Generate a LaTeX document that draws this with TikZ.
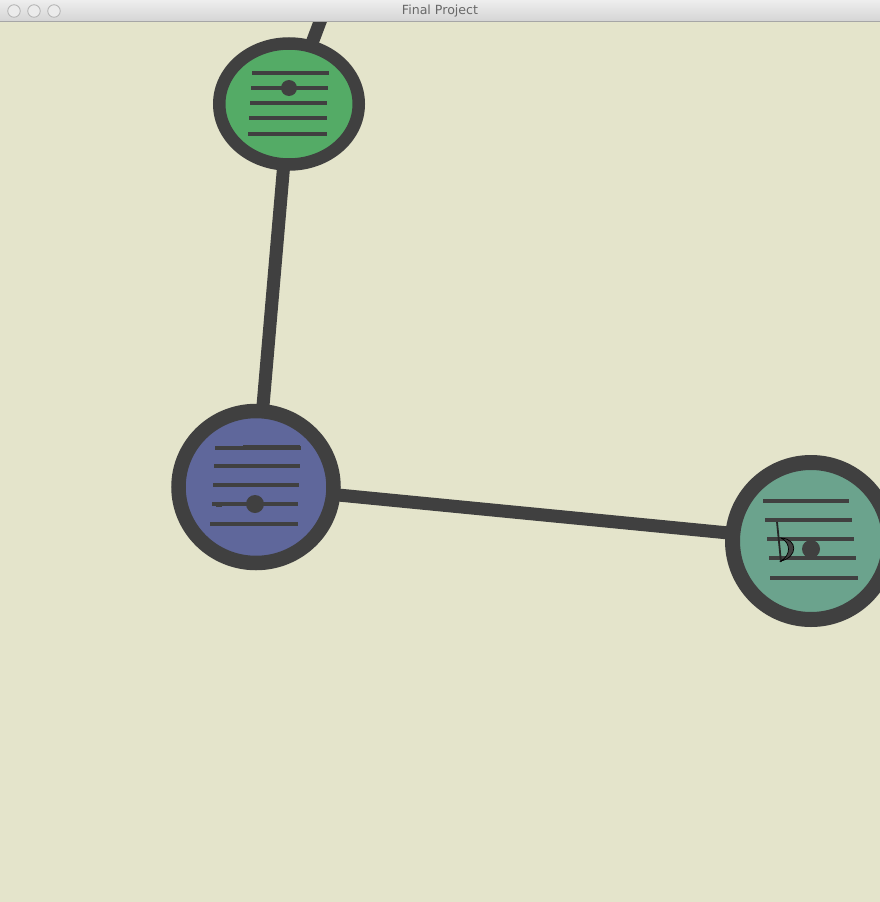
\documentclass[tikz,border=0pt]{standalone}
\usepackage{fontspec}
\setmainfont{DejaVu Sans}
\usetikzlibrary{shapes.geometric}
\definecolor{bg}{HTML}{E4E4CB}
\definecolor{ring}{HTML}{404040}
\definecolor{gfill}{HTML}{54AB66}
\definecolor{bfill}{HTML}{5F679B}
\definecolor{tfill}{HTML}{6BA38D}
\definecolor{bartop}{HTML}{EEEEEE}
\definecolor{barbot}{HTML}{D5D5D5}
\definecolor{barline}{HTML}{A6A6A6}
\definecolor{titlecol}{HTML}{686868}
\tikzset{
  notenode/.style={ellipse, draw=ring, inner sep=0pt, outer sep=0pt},
  connector/.style={draw=ring, line width=13bp},
  staff/.style={draw=ring, line width=3.2bp},
  notedot/.style={fill=ring},
  winbtn/.style={circle, draw=black!30, fill=white!92!black, line width=0.8bp, minimum size=12.5bp, inner sep=0pt}
}
\begin{document}
\begin{tikzpicture}[x=1bp,y=-1bp]
\useasboundingbox (0,0) rectangle (880,902);
\fill[bg] (0,0) rectangle (880,902);
% nodes
\node[notenode, fill=gfill, line width=12.5bp, minimum width=139.5bp, minimum height=121bp] (g) at (289,104) {};
\node[notenode, fill=bfill, line width=14.5bp, minimum width=155bp, minimum height=152bp] (b) at (256,487) {};
\node[notenode, fill=tfill, line width=15bp, minimum width=157bp, minimum height=157bp] (t) at (811,541) {};
\coordinate (up) at (332,-10);
% connectors
\draw[connector] (g) -- (up);
\draw[connector] (g) -- (b);
\draw[connector] (b) -- (t);
% green staff
\draw[staff] (252,73) -- (329,73);
\draw[staff] (251,88) -- (328,88);
\draw[staff] (250,103) -- (327,103);
\draw[staff] (249,118) -- (327,118);
\draw[staff] (248,134) -- (327,134);
\fill[notedot] (289,88) circle (8bp);
% blue staff
\draw[ring, line width=1.5bp] (243,446) -- (300,446);
\draw[staff] (215,448) -- (301,448);
\draw[staff] (214,466) -- (300,466);
\draw[staff] (213,485) -- (299,485);
\draw[staff] (212,504) -- (298,504);
\draw[staff] (210,524) -- (298,524);
\draw[ring, line width=1.5bp] (216,506) -- (222,506);
\fill[notedot] (255,504) circle (9bp);
% teal staff
\draw[staff] (763,501) -- (849,501);
\draw[staff] (765,520) -- (852,520);
\draw[staff] (767,539) -- (854,539);
\draw[staff] (769,558) -- (856,558);
\draw[staff] (770,578) -- (858,578);
\fill[notedot] (811,549) circle (9bp);
% flat sign
\draw[black!85, line width=1.8bp] (777,522) -- (781,562);
\filldraw[fill=ring, draw=black, line width=0.7bp] (781,538) .. controls (798,539) and (798,557) .. (781,561) .. controls (791,555) and (791,543) .. (781,538) -- cycle;
% title bar
\shade[top color=bartop, bottom color=barbot] (0,0) rectangle (880,21);
\draw[barline, line width=1bp] (0,21.5) -- (880,21.5);
\node[text=titlecol, font=\fontsize{12.6bp}{14bp}\selectfont, inner sep=0pt] (title) at (440,11) {Final Project};
\node[winbtn] (w1) at (14,11) {};
\node[winbtn] (w2) at (34,11) {};
\node[winbtn] (w3) at (54,11) {};
\end{tikzpicture}
\end{document}
